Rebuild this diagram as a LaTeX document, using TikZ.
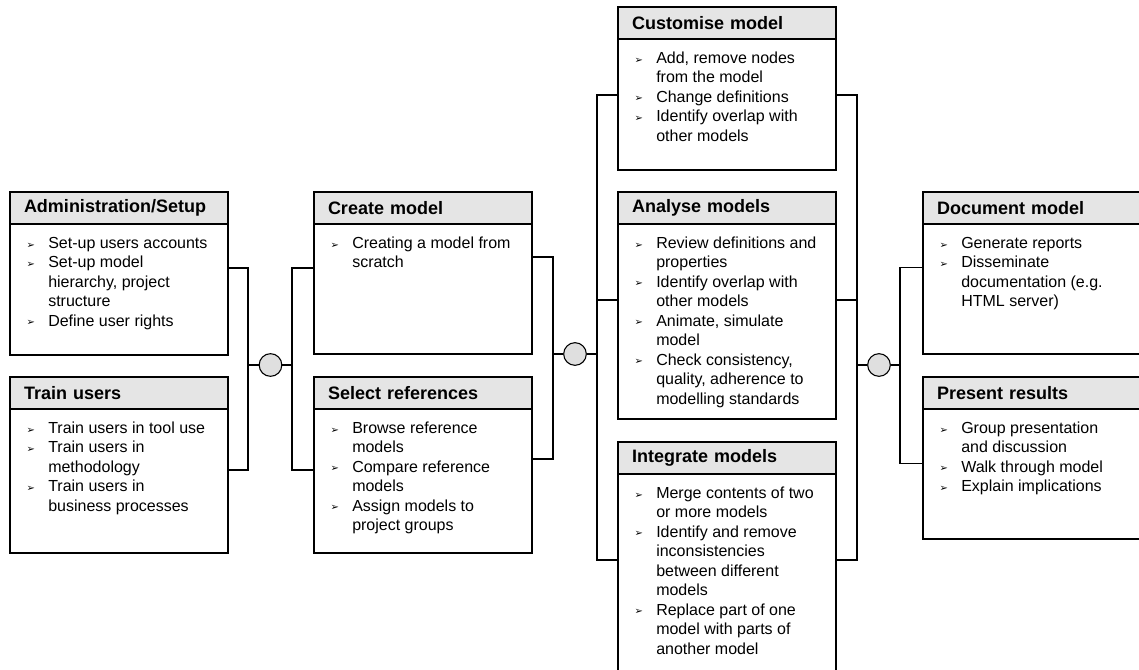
\documentclass[tikz,border=0pt]{standalone}
\usepackage{fontspec}
\setmainfont{Liberation Sans}
\newfontfamily\bulfont{DejaVu Sans}
\usepackage{tikz}
\usetikzlibrary{calc}
\newcommand{\bul}{\strut\llap{\raisebox{0.2pt}{\bulfont\fontsize{7.5}{8}\selectfont ➢}\hspace{10pt}}}

\begin{document}
\begin{tikzpicture}[x=0.75pt, y=-0.75pt,
	box/.style={draw, line width=1.2pt, minimum width=163.5pt, inner sep=0pt, outer sep=0pt, anchor=north west},
	head/.style={draw, line width=1.2pt, fill=gray!20, minimum width=163.5pt, minimum height=24pt, inner xsep=10.5pt, inner ysep=0pt, outer sep=0pt, text width=142.5pt, align=left, anchor=north west, font=\bfseries\fontsize{13.5}{16}\selectfont},
	txt/.style={anchor=north west, inner sep=0pt, align=left, font=\fontsize{12}{14.6}\selectfont},
	knot/.style={circle, draw, fill=gray!25, minimum size=17pt, inner sep=0pt, line width=0.8pt},
	wire/.style={line width=0.8pt}]
	\useasboundingbox (0,0) rectangle (1139,669);
	\clip (0,0) rectangle (1139,669);

	\node[box, minimum height=122.25pt] (admin) at (10,192) {};
	\node[head] (adminhd) at (admin.north west) {Administration/Setup};
	\node[txt] (admintx) at ($(admin.north west)+(38,42.4)$) {\bul Set-up users accounts\\\bul Set-up model\\hierarchy, project\\structure\\\bul Define user rights};

	\node[box, minimum height=132pt] (train) at (10,377) {};
	\node[head] (trainhd) at (train.north west) {Train users};
	\node[txt] (traintx) at ($(train.north west)+(38,42.4)$) {\bul Train users in tool use\\\bul Train users in\\methodology\\\bul Train users in\\business processes};

	\node[box, minimum height=121.5pt] (create) at (314,192) {};
	\node[head] (createhd) at (create.north west) {Create model};
	\node[txt] (createtx) at ($(create.north west)+(38,42.4)$) {\bul Creating a model from\\scratch};

	\node[box, minimum height=132pt] (select) at (314,377) {};
	\node[head] (selecthd) at (select.north west) {Select references};
	\node[txt] (selecttx) at ($(select.north west)+(38,42.4)$) {\bul Browse reference\\models\\\bul Compare reference\\models\\\bul Assign models to\\project groups};

	\node[box, minimum height=122.25pt] (custom) at (618,7) {};
	\node[head] (customhd) at (custom.north west) {Customise model};
	\node[txt] (customtx) at ($(custom.north west)+(38,42.4)$) {\bul Add, remove nodes\\from the model\\\bul Change definitions\\\bul Identify overlap with\\other models};

	\node[box, minimum height=170.25pt] (analyse) at (618,192) {};
	\node[head] (analysehd) at (analyse.north west) {Analyse models};
	\node[txt] (analysetx) at ($(analyse.north west)+(38,42.4)$) {\bul Review definitions and\\properties\\\bul Identify overlap with\\other models\\\bul Animate, simulate\\model\\\bul Check consistency,\\quality, adherence to\\modelling standards};

	\node[box, minimum height=171.5pt] (integ) at (618,442) {};
	\node[head] (integhd) at (integ.north west) {Integrate models};
	\node[txt] (integtx) at ($(integ.north west)+(38,42.4)$) {\bul Merge contents of two\\or more models\\\bul Identify and remove\\inconsistencies\\between different\\models\\\bul Replace part of one\\model with parts of\\another model};

	\node[box, minimum height=121.5pt] (docu) at (923,192) {};
	\node[head] (docuhd) at (docu.north west) {Document model};
	\node[txt] (docutx) at ($(docu.north west)+(38,42.4)$) {\bul Generate reports\\\bul Disseminate\\documentation (e.g.\\HTML server)};

	\node[box, minimum height=121.5pt] (present) at (923,377) {};
	\node[head] (presenthd) at (present.north west) {Present results};
	\node[txt] (presenttx) at ($(present.north west)+(38,42.4)$) {\bul Group presentation\\and discussion\\\bul Walk through model\\\bul Explain implications};

	\node[knot] (knotA) at (270.5,365) {};
	\node[knot] (knotB) at (575,354) {};
	\node[knot] (knotC) at (879,365) {};

	\coordinate (busAl) at (248,365);
	\coordinate (busAr) at (292,365);
	\coordinate (busBl) at (553,354);
	\coordinate (busBr) at (597,354);
	\coordinate (busCl) at (857,365);
	\coordinate (busCr) at (900,365);

	\draw[wire] ($(admin.north east)+(0,76)$) -| (busAl) |- ($(train.north east)+(0,93)$);
	\draw[wire] (busAl) -- (knotA) -- (busAr);
	\draw[wire] ($(create.north west)+(0,76)$) -| (busAr) |- ($(select.north west)+(0,93)$);

	\draw[wire] ($(create.north east)+(0,65)$) -| (busBl) |- ($(select.north east)+(0,82)$);
	\draw[wire] (busBl) -- (knotB) -- (busBr);
	\draw[wire] ($(custom.north west)+(0,88)$) -| (busBr) |- ($(integ.north west)+(0,118)$);
	\draw[wire] ($(analyse.north west)+(0,108)$) -| (busBr);

	\draw[wire] ($(custom.north east)+(0,88)$) -| (busCl) |- ($(integ.north east)+(0,118)$);
	\draw[wire] ($(analyse.north east)+(0,108)$) -| (busCl);
	\draw[wire] (busCl) -- (knotC) -- (busCr);
	\draw[wire] ($(docu.north west)+(0,75.5)$) -| (busCr) |- ($(present.north west)+(0,86.5)$);
\end{tikzpicture}
\end{document}
